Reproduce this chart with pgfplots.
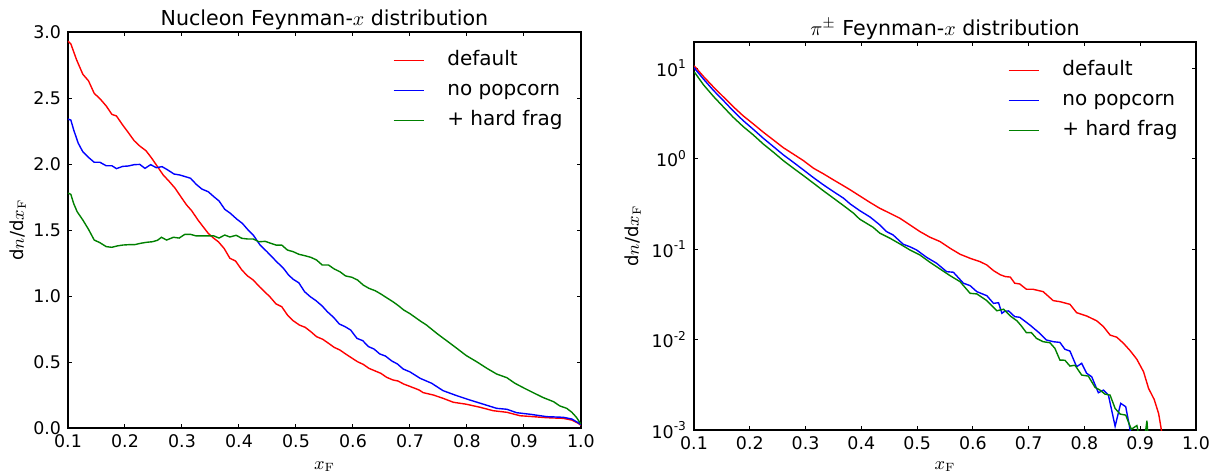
\documentclass[border=0pt]{standalone}
\usepackage[no-math]{fontspec}
\setmainfont{DejaVu Sans}
\usepackage{pgfplots}
\pgfplotsset{compat=1.18}
\definecolor{mred}{rgb}{1,0,0}
\definecolor{mblue}{rgb}{0,0,1}
\definecolor{mgreen}{rgb}{0,0.5,0}
\pgfplotsset{
  every axis title shift=0pt,
  mystyle/.style={
    scale only axis,
    axis line style={line width=0.6pt},
    tick style={line width=0.5pt, black},
    major tick length=2.2pt,
    minor tick length=0pt,
    tick align=inside,
    xtick pos=both, ytick pos=both,
    xmin=0.1, xmax=1.0,
    xtick={0.1,0.2,...,1.0},
    /pgf/number format/assume math mode=true,
    /pgf/number format/fixed, /pgf/number format/fixed zerofill, /pgf/number format/precision=1,
    ticklabel style={font=\fontsize{8.7}{10}\selectfont},
    title style={font=\fontsize{10.3}{12}\selectfont, anchor=base, yshift=3.5pt, inner sep=0pt},
    label style={font=\fontsize{9}{11}\selectfont, inner sep=0pt},
    legend style={draw=none, fill=none, at={(1,1)}, anchor=north east, xshift=-9pt, yshift=-9pt,
      inner sep=0pt, row sep=5pt, font=\fontsize{10}{12}\selectfont,
      nodes={inner sep=0pt, text height=7.6pt, text depth=2.4pt}},
    legend cell align=left,
    legend image code/.code={\draw[##1] (0pt,0pt) -- (15pt,0pt); \path (26.5pt,0pt);},
    every axis plot/.append style={line width=0.7pt, mark=none},
    clip=true,
  }
}
\begin{document}
\begin{tikzpicture}
\useasboundingbox (0pt,0pt) rectangle (611.5pt,236.5pt);
\begin{axis}[mystyle,
  at={(34pt,22.5pt)}, anchor=south west,
  width=256.5pt, height=198pt,
  ymin=0, ymax=3.0, ytick={0,0.5,...,3.0},
  title={Nucleon Feynman-$x$ distribution},
  xlabel={$x_\mathrm{F}$}, ylabel={d$n$/d$x_\mathrm{F}$},
  xlabel style={at={(axis description cs:0.5,-0.098)}, anchor=center},
  ylabel style={at={(axis description cs:-0.0975,0.5)}, anchor=center},
]
\addplot[mred] coordinates {(0.100,2.93)(0.105,2.91)(0.115,2.79)(0.126,2.68)(0.136,2.63)(0.146,2.535)(0.156,2.495)(0.167,2.44)(0.177,2.376)(0.185,2.364)(0.196,2.295)(0.206,2.237)(0.216,2.177)(0.226,2.136)(0.237,2.10)(0.247,2.043)(0.257,1.98)(0.267,1.917)(0.278,1.866)(0.288,1.816)(0.298,1.752)(0.308,1.69)(0.317,1.646)(0.328,1.576)(0.337,1.525)(0.346,1.475)(0.355,1.440)(0.364,1.41)(0.374,1.36)(0.384,1.286)(0.394,1.265)(0.405,1.197)(0.415,1.152)(0.425,1.121)(0.436,1.07)(0.446,1.028)(0.454,0.995)(0.465,0.94)(0.475,0.919)(0.485,0.856)(0.495,0.813)(0.506,0.78)(0.516,0.763)(0.526,0.73)(0.536,0.692)(0.547,0.672)(0.557,0.642)(0.567,0.611)(0.577,0.591)(0.588,0.558)(0.598,0.53)(0.608,0.502)(0.618,0.482)(0.628,0.452)(0.639,0.432)(0.649,0.414)(0.659,0.384)(0.670,0.364)(0.679,0.356)(0.689,0.333)(0.70,0.315)(0.716,0.288)(0.723,0.268)(0.741,0.25)(0.758,0.225)(0.776,0.195)(0.799,0.18)(0.823,0.157)(0.846,0.131)(0.87,0.119)(0.893,0.093)(0.916,0.086)(0.94,0.078)(0.969,0.073)(0.984,0.06)(0.995,0.036)(1.0,0.02)};
\addlegendentry{default}
\addplot[mblue] coordinates {(0.100,2.34)(0.105,2.333)(0.11,2.258)(0.118,2.157)(0.126,2.093)(0.136,2.05)(0.146,2.013)(0.156,2.013)(0.167,1.987)(0.177,1.987)(0.185,1.965)(0.196,1.982)(0.206,1.985)(0.216,1.995)(0.226,1.997)(0.235,1.967)(0.245,1.995)(0.255,1.972)(0.265,1.98)(0.275,1.955)(0.286,1.924)(0.296,1.917)(0.306,1.904)(0.315,1.892)(0.325,1.846)(0.335,1.81)(0.346,1.79)(0.356,1.752)(0.365,1.72)(0.375,1.657)(0.385,1.626)(0.396,1.583)(0.406,1.55)(0.416,1.50)(0.425,1.462)(0.437,1.386)(0.449,1.336)(0.466,1.26)(0.478,1.21)(0.487,1.159)(0.495,1.127)(0.505,1.10)(0.515,1.033)(0.525,0.995)(0.535,0.965)(0.546,0.924)(0.555,0.881)(0.566,0.838)(0.576,0.788)(0.586,0.768)(0.596,0.742)(0.607,0.679)(0.617,0.662)(0.627,0.617)(0.637,0.598)(0.647,0.561)(0.657,0.545)(0.668,0.508)(0.678,0.485)(0.688,0.447)(0.70,0.425)(0.718,0.376)(0.738,0.339)(0.758,0.283)(0.782,0.245)(0.805,0.212)(0.829,0.18)(0.852,0.149)(0.87,0.142)(0.887,0.116)(0.911,0.104)(0.94,0.086)(0.969,0.081)(0.984,0.068)(0.995,0.04)(1.0,0.025)};
\addlegendentry{no popcorn}
\addplot[mgreen] coordinates {(0.100,1.78)(0.105,1.77)(0.11,1.70)(0.116,1.639)(0.126,1.576)(0.136,1.505)(0.146,1.424)(0.156,1.404)(0.167,1.374)(0.177,1.369)(0.186,1.379)(0.196,1.386)(0.207,1.389)(0.217,1.389)(0.227,1.399)(0.238,1.407)(0.248,1.411)(0.257,1.422)(0.264,1.445)(0.273,1.424)(0.285,1.445)(0.295,1.439)(0.305,1.467)(0.315,1.467)(0.325,1.455)(0.335,1.455)(0.346,1.455)(0.356,1.455)(0.365,1.439)(0.375,1.462)(0.384,1.447)(0.395,1.46)(0.405,1.437)(0.415,1.432)(0.425,1.432)(0.435,1.411)(0.446,1.414)(0.456,1.399)(0.465,1.386)(0.475,1.386)(0.485,1.348)(0.495,1.336)(0.505,1.316)(0.516,1.305)(0.526,1.293)(0.536,1.273)(0.546,1.235)(0.557,1.235)(0.567,1.205)(0.577,1.184)(0.587,1.152)(0.598,1.142)(0.608,1.121)(0.618,1.083)(0.628,1.058)(0.639,1.04)(0.649,1.015)(0.659,0.987)(0.67,0.957)(0.679,0.929)(0.689,0.894)(0.70,0.866)(0.718,0.811)(0.729,0.78)(0.747,0.717)(0.765,0.659)(0.782,0.604)(0.799,0.548)(0.817,0.502)(0.835,0.452)(0.852,0.409)(0.87,0.381)(0.884,0.339)(0.899,0.305)(0.916,0.268)(0.934,0.23)(0.952,0.199)(0.963,0.167)(0.975,0.149)(0.984,0.119)(0.992,0.081)(0.997,0.048)(1.0,0.03)};
\addlegendentry{+ hard frag}
\end{axis}
\begin{axis}[mystyle,
  at={(347pt,21.5pt)}, anchor=south west,
  width=251pt, height=194pt,
  ymode=log, ymin=1e-3, ymax=19.4,
  ytick={1e-3,1e-2,1e-1,1,10},
  yticklabels={10\textsuperscript{-3},10\textsuperscript{-2},10\textsuperscript{-1},10\textsuperscript{0},10\textsuperscript{1}},
  title={$\pi^\pm$ Feynman-$x$ distribution},
  xlabel={$x_\mathrm{F}$}, ylabel={d$n$/d$x_\mathrm{F}$},
  xlabel style={at={(axis description cs:0.5,-0.095)}, anchor=center},
  ylabel style={at={(axis description cs:-0.1215,0.5)}, anchor=center},
]
\addplot[mred] coordinates {(0.100,10.6)(0.102,10.3)(0.117,8.07)(0.135,6.16)(0.153,4.78)(0.170,3.76)(0.188,2.97)(0.206,2.42)(0.224,1.96)(0.242,1.61)(0.260,1.32)(0.278,1.12)(0.296,0.95)(0.314,0.783)(0.332,0.678)(0.35,0.581)(0.368,0.50)(0.38,0.451)(0.397,0.387)(0.416,0.326)(0.433,0.282)(0.451,0.249)(0.469,0.219)(0.487,0.185)(0.505,0.156)(0.523,0.135)(0.541,0.121)(0.559,0.102)(0.577,0.0876)(0.595,0.079)(0.613,0.0725)(0.625,0.0666)(0.637,0.0577)(0.649,0.052)(0.658,0.0496)(0.667,0.049)(0.675,0.0419)(0.684,0.0411)(0.696,0.0359)(0.708,0.0359)(0.726,0.0338)(0.744,0.0269)(0.756,0.0262)(0.774,0.0245)(0.786,0.0198)(0.804,0.0182)(0.822,0.0161)(0.834,0.0139)(0.846,0.0112)(0.858,0.0106)(0.87,0.00908)(0.882,0.00752)(0.894,0.00604)(0.906,0.0044)(0.915,0.00288)(0.925,0.00218)(0.933,0.00152)(0.938,0.001)(0.942,0.0006)};
\addlegendentry{default}
\addplot[mblue] coordinates {(0.100,10.1)(0.102,9.75)(0.117,7.55)(0.135,5.65)(0.153,4.35)(0.170,3.37)(0.188,2.63)(0.206,2.11)(0.224,1.68)(0.242,1.36)(0.26,1.1)(0.278,0.91)(0.296,0.75)(0.314,0.616)(0.332,0.512)(0.35,0.431)(0.368,0.365)(0.38,0.315)(0.397,0.266)(0.416,0.225)(0.433,0.185)(0.445,0.156)(0.457,0.143)(0.475,0.113)(0.487,0.106)(0.499,0.0977)(0.517,0.081)(0.535,0.0696)(0.553,0.0562)(0.565,0.0554)(0.583,0.0419)(0.595,0.0394)(0.607,0.0338)(0.625,0.0305)(0.637,0.0251)(0.646,0.0255)(0.652,0.0195)(0.657,0.0205)(0.664,0.0207)(0.675,0.0179)(0.684,0.0176)(0.702,0.0145)(0.72,0.0117)(0.732,0.00987)(0.744,0.00946)(0.756,0.0093)(0.765,0.0078)(0.774,0.00746)(0.786,0.005)(0.795,0.00546)(0.804,0.00423)(0.813,0.00388)(0.825,0.00258)(0.834,0.00276)(0.843,0.00243)(0.855,0.0011)(0.865,0.00197)(0.874,0.00181)(0.882,0.001)(0.886,0.0005)};
\addlegendentry{no popcorn}
\addplot[mgreen] coordinates {(0.100,9.0)(0.102,8.8)(0.117,6.53)(0.135,4.85)(0.153,3.7)(0.170,2.87)(0.188,2.26)(0.206,1.83)(0.224,1.45)(0.242,1.18)(0.26,0.95)(0.278,0.783)(0.296,0.649)(0.314,0.535)(0.332,0.44)(0.35,0.365)(0.368,0.302)(0.386,0.249)(0.397,0.214)(0.421,0.174)(0.433,0.15)(0.451,0.132)(0.469,0.114)(0.487,0.0977)(0.505,0.086)(0.523,0.0714)(0.541,0.0602)(0.559,0.0508)(0.577,0.0436)(0.595,0.0324)(0.607,0.0319)(0.625,0.0269)(0.643,0.0208)(0.655,0.0216)(0.667,0.0182)(0.679,0.0161)(0.687,0.0141)(0.696,0.0119)(0.705,0.0119)(0.714,0.0103)(0.726,0.00946)(0.738,0.00922)(0.747,0.008)(0.756,0.00593)(0.765,0.0059)(0.774,0.00509)(0.783,0.0052)(0.795,0.00405)(0.807,0.00394)(0.819,0.00296)(0.828,0.00276)(0.837,0.00249)(0.846,0.00243)(0.855,0.00173)(0.864,0.0015)(0.874,0.00146)(0.884,0.00102)(0.894,0.00112)(0.899,0.0008)(0.908,0.0008)(0.912,0.00127)(0.915,0.0007)};
\addlegendentry{+ hard frag}
\end{axis}
\end{tikzpicture}
\end{document}
